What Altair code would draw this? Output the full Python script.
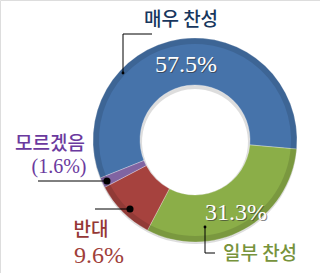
import math
import altair as alt
import pandas as pd

# ---- data ----
categories = ["매우 찬성", "일부 찬성", "반대", "모르겠음"]
values = [57.5, 31.3, 9.6, 1.6]
slice_colors = ["#4673AA", "#8BAE48", "#A6423E", "#8064A2"]
pct_labels = ["57.5%", "31.3%"]

# chart-space annotation anchors (pixel-like coordinates)
W, H = 320, 273
CX, CY = 195, 140
R_OUT, R_IN = 102, 55
START_DEG = 248.1

df = pd.DataFrame({"cat": categories, "val": values, "order": list(range(len(values)))})

xs = alt.Scale(domain=[0, W], range=[0, W])
ys = alt.Scale(domain=[0, H], range=[0, H])

start = math.radians(START_DEG)
theta = alt.Theta("val:Q", stack=True, scale=alt.Scale(range=[start, start + 2 * math.pi]))
color = alt.Color("cat:N", scale=alt.Scale(domain=categories, range=slice_colors), legend=None)

shadow = alt.Chart(df).mark_arc(innerRadius=R_IN - 2, outerRadius=R_OUT, color="#bbbbbb", opacity=0.5).encode(
    theta=theta, order=alt.Order("order:Q"), x=alt.value(CX), y=alt.value(CY + 2)
)

arcs = alt.Chart(df).mark_arc(innerRadius=R_IN, outerRadius=R_OUT, stroke="#ffffff", strokeWidth=0.3).encode(
    theta=theta, color=color, order=alt.Order("order:Q"), x=alt.value(CX), y=alt.value(CY)
)

# darker outer band for a bevel look
bevel = alt.Chart(df).mark_arc(innerRadius=R_OUT - 6, outerRadius=R_OUT, color="#000000", opacity=0.12).encode(
    theta=theta, order=alt.Order("order:Q"), x=alt.value(CX), y=alt.value(CY)
)

# leader lines
seg_x = [123, 123, 38, 95, 205, 205]
seg_y = [34, 34, 181, 209, 227, 253]
seg_x2 = [152, 123, 107, 130, 205, 215]
seg_y2 = [34, 73, 181, 209, 253, 253]
segs = pd.DataFrame({"x": seg_x, "y": seg_y, "x2": seg_x2, "y2": seg_y2})
rules = alt.Chart(segs).mark_rule(color="#000000", strokeWidth=1).encode(
    x=alt.X("x:Q", scale=xs, axis=None), y=alt.Y("y:Q", scale=ys, axis=None), x2="x2:Q", y2="y2:Q"
)

dot_x = [123, 107, 130, 205]
dot_y = [73, 181, 209, 227]
dot_size = [8, 50, 50, 8]
dots = alt.Chart(pd.DataFrame({"x": dot_x, "y": dot_y, "s": dot_size})).mark_circle(color="#000000", opacity=1).encode(
    x=alt.X("x:Q", scale=xs, axis=None), y=alt.Y("y:Q", scale=ys, axis=None),
    size=alt.Size("s:Q", scale=None, legend=None)
)

# in-ring percentage labels (white serif with shadow)
pct_x = [186, 236]
pct_y = [72, 220]
pdf = pd.DataFrame({"t": pct_labels, "x": pct_x, "y": pct_y})
pct_shadow = alt.Chart(pdf).mark_text(font="Liberation Serif", fontSize=24, color="#333333", opacity=0.6,
                                      baseline="alphabetic", align="center", dx=1, dy=1).encode(
    x=alt.X("x:Q", scale=xs, axis=None), y=alt.Y("y:Q", scale=ys, axis=None), text="t:N"
)
pct = alt.Chart(pdf).mark_text(font="Liberation Serif", fontSize=24, color="#ffffff",
                               baseline="alphabetic", align="center").encode(
    x=alt.X("x:Q", scale=xs, axis=None), y=alt.Y("y:Q", scale=ys, axis=None), text="t:N"
)

# category labels
lab_text = ["매우 찬성", "모르겠음", "반대", "일부 찬성"]
lab_x = [181, 50, 91, 260]
lab_y = [20, 144, 230, 254]
lab_col = ["#17375E", "#6B3A9E", "#953735", "#77933C"]
ldf = pd.DataFrame({"t": lab_text, "x": lab_x, "y": lab_y, "c": lab_col})
labels = alt.Chart(ldf).mark_text(font="Noto Sans CJK KR", fontSize=19, fontWeight=500,
                                  baseline="middle", align="center").encode(
    x=alt.X("x:Q", scale=xs, axis=None), y=alt.Y("y:Q", scale=ys, axis=None), text="t:N",
    color=alt.Color("c:N", scale=None)
)

sub_text = ["(1.6%)", "9.6%"]
sub_x = [59, 99]
sub_y = [173, 263]
sub_size = [20, 24]
sub_col = ["#6B3A9E", "#A0403A"]
sdf = pd.DataFrame({"t": sub_text, "x": sub_x, "y": sub_y, "s": sub_size, "c": sub_col})
subs = alt.Chart(sdf).mark_text(font="Liberation Serif", baseline="alphabetic", align="center").encode(
    x=alt.X("x:Q", scale=xs, axis=None), y=alt.Y("y:Q", scale=ys, axis=None), text="t:N",
    size=alt.Size("s:Q", scale=None, legend=None), color=alt.Color("c:N", scale=None)
)

chart = alt.layer(shadow, arcs, bevel, rules, dots, pct_shadow, pct, labels, subs).properties(
    width=W, height=H, padding=0, autosize=alt.AutoSizeParams(type="none")
).configure_view(stroke=None).configure(background="#ffffff")

chart.save("out.html", embed_options={"renderer": "svg", "actions": False})
